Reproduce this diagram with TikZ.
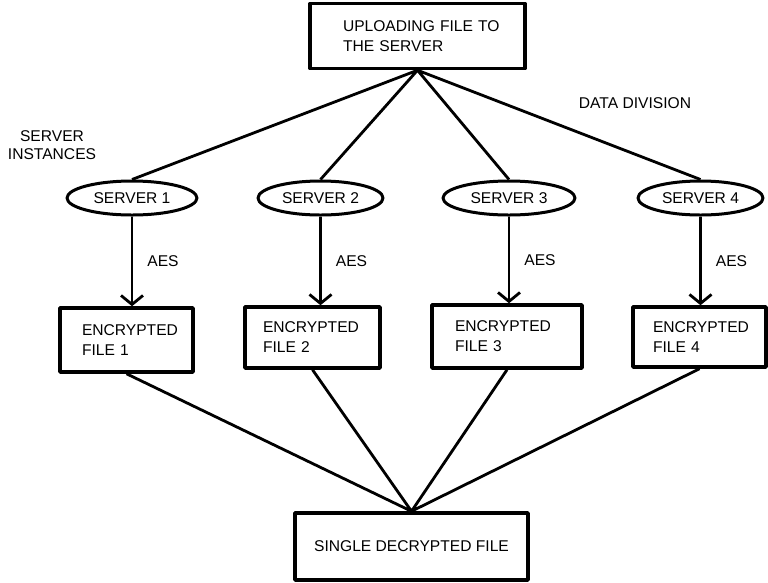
\documentclass[tikz,border=0pt]{standalone}
\usepackage{fontspec}
\setmainfont{Liberation Sans}
\usetikzlibrary{arrows.meta, shapes, positioning}

\begin{document}
\begin{tikzpicture}[x=1pt, y=-1pt, line join=round,
		every node/.style={font=\fontsize{15.6}{20}\selectfont},
		filebox/.style={draw, line width=3.5pt, rectangle, align=left, inner ysep=0pt},
		server/.style={draw, ellipse, line width=3pt, minimum height=34pt, inner sep=0pt},
		link/.style={line width=2.8pt},
		enc/.style={link, -{Straight Barb[length=9pt, width=22pt]}},
		aes/.style={right=14pt, inner sep=0pt}]
		\useasboundingbox (0, 0) rectangle (768, 582);

		\node[filebox, text width=149pt, inner xsep=33pt, minimum height=65pt] (up) at (417.5, 36) {\mbox{UPLOADING FILE TO}\\THE SERVER};

		\node[server, minimum width=130pt] (srv1) at (132, 198) {SERVER 1};
		\node[server, minimum width=125pt] (srv2) at (320.5, 198) {SERVER 2};
		\node[server, minimum width=132pt] (srv3) at (509, 198) {SERVER 3};
		\node[server, minimum width=125pt] (srv4) at (700.5, 198) {SERVER 4};

		\node[filebox, text width=89pt, inner xsep=22pt, minimum height=64pt] (enc1) at (126.5, 340) {ENCRYPTED\\FILE 1};
		\node[filebox, text width=99pt, inner xsep=18pt, minimum height=61pt] (enc2) at (312.5, 337.5) {ENCRYPTED\\FILE 2};
		\node[filebox, text width=104pt, inner xsep=23pt, minimum height=63pt] (enc3) at (507, 336.5) {ENCRYPTED\\FILE 3};
		\node[filebox, text width=93pt, inner xsep=20pt, minimum height=60pt] (enc4) at (699.5, 337) {ENCRYPTED\\FILE 4};

		\node[filebox, align=center, minimum width=233pt, minimum height=67pt] (dec) at (411.5, 546.5) {SINGLE DECRYPTED FILE};

		\node[align=center, font=\fontsize{15.6}{18}\selectfont] (inst) at (52, 145) {SERVER\\INSTANCES};
		\node (div) at (635, 103) {DATA DIVISION};

		% data division
		\draw[link] (up.south) -- (srv1.north)
			(up.south) -- (srv2.north)
			(up.south) -- (srv3.north)
			(up.south) -- (srv4.north);

		% encryption on each server
		\path (srv1.south) edge[enc] node[aes] {AES} (srv1.south |- enc1.north)
			(srv2.south) edge[enc] node[aes] {AES} (srv2.south |- enc2.north)
			(srv3.south) edge[enc] node[aes] {AES} (srv3.south |- enc3.north)
			(srv4.south) edge[enc] node[aes] {AES} (srv4.south |- enc4.north);

		% merging back
		\draw[link] (enc1.south) -- (dec.north)
			(enc2.south) -- (dec.north)
			(enc3.south) -- (dec.north)
			(enc4.south) -- (dec.north);
	\end{tikzpicture}
\end{document}
